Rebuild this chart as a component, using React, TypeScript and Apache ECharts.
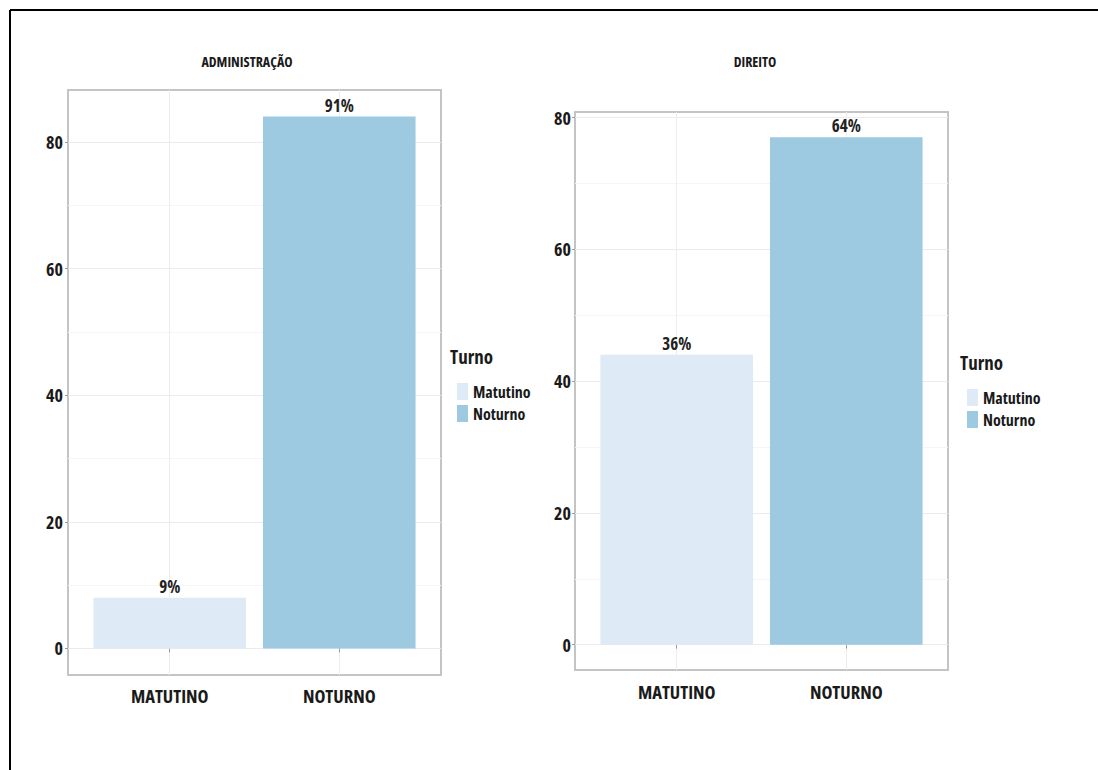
import React, { useEffect, useRef } from 'react';
import * as echarts from 'echarts';

// Enrolments by shift, one panel per course
const turnos = ['Matutino', 'Noturno'];
const categoryLabels = ['MATUTINO', 'NOTURNO'];
const panelTitles = ['ADMINISTRAÇÃO', 'DIREITO'];
const administracaoCounts = [8, 84];
const direitoCounts = [44, 77];
const yMajorTicks = [0, 20, 40, 60, 80];
const yMinorTicks = [10, 30, 50, 70];
const turnoColors = ['#deebf7', '#9ecae1'];
const legendTitle = 'Turno';

// Open Sans is drawn condensed through the container's font-stretch
const FONT = "'Open Sans', 'DejaVu Sans Condensed', sans-serif";
const INK = '#1a1a1a';

type PanelLayout = {
  left: number;
  top: number;
  width: number;
  height: number;
  titleX: number;
  titleY: number;
  legendX: number;
  legendTitleY: number;
  legendTop: number;
  xLabelMargin: number;
  yLabelMargin: number;
};

const layouts: PanelLayout[] = [
  {
    left: 68, top: 90, width: 373, height: 585,
    titleX: 247, titleY: 61,
    legendX: 452, legendTitleY: 357, legendTop: 378,
    xLabelMargin: 11, yLabelMargin: 5,
  },
  {
    left: 575, top: 112, width: 373, height: 558,
    titleX: 755, titleY: 61,
    legendX: 962, legendTitleY: 363, legendTop: 384,
    xLabelMargin: 12, yLabelMargin: 4,
  },
];

function buildOption() {
  const panels = [administracaoCounts, direitoCounts];
  const grid: any[] = [];
  const xAxis: any[] = [];
  const yAxis: any[] = [];
  const series: any[] = [];
  const legend: any[] = [];
  const graphic: any[] = [];

  panels.forEach((counts, p) => {
    const L = layouts[p];
    const total = counts.reduce((a, b) => a + b, 0);
    const peak = Math.max(...counts);
    // value range padded by 5% at both ends; discrete positions padded by 0.6
    const yMin = -0.05 * peak;
    const yMax = peak * 1.05;
    const positions = categoryLabels.map((_, i) => i + 1);

    grid.push({
      left: L.left,
      top: L.top,
      width: L.width,
      height: L.height,
      show: true,
      backgroundColor: '#ffffff',
      borderColor: '#c4c4c4',
      borderWidth: 2,
    });

    xAxis.push({
      type: 'value',
      gridIndex: p,
      min: 0.4,
      max: categoryLabels.length + 0.6,
      axisLine: { show: false },
      axisTick: {
        show: true,
        customValues: positions,
        length: 4,
        lineStyle: { color: '#9a9a9a', width: 1 },
      },
      axisLabel: {
        customValues: positions,
        formatter: (v: number) => categoryLabels[Math.round(v) - 1] ?? '',
        margin: L.xLabelMargin,
        fontFamily: FONT,
        fontWeight: 'bold',
        fontSize: 18.5,
        color: INK,
      },
      splitLine: { show: true, lineStyle: { color: '#ededed', width: 1 } },
    });

    yAxis.push({
      type: 'value',
      gridIndex: p,
      min: yMin,
      max: yMax,
      axisLine: { show: false },
      axisTick: {
        show: true,
        customValues: yMajorTicks,
        length: 3,
        lineStyle: { color: '#9a9a9a', width: 1 },
      },
      axisLabel: {
        customValues: yMajorTicks,
        margin: L.yLabelMargin,
        fontFamily: FONT,
        fontWeight: 'bold',
        fontSize: 18,
        color: INK,
      },
      splitLine: { show: true, lineStyle: { color: '#ebebeb', width: 1 } },
    });
    // minor gridlines
    yAxis.push({
      type: 'value',
      gridIndex: p,
      position: 'left',
      min: yMin,
      max: yMax,
      axisLine: { show: false },
      axisTick: { show: false, customValues: yMinorTicks },
      axisLabel: { show: false, customValues: yMinorTicks },
      splitLine: { show: true, lineStyle: { color: '#f5f5f5', width: 1 } },
    });

    counts.forEach((count, i) => {
      series.push({
        type: 'bar',
        name: turnos[i],
        xAxisIndex: p,
        yAxisIndex: 2 * p,
        data: [[positions[i], count]],
        barWidth: '90%',
        barGap: '-100%',
        itemStyle: { color: turnoColors[i] },
        label: {
          show: true,
          position: 'top',
          distance: 3,
          formatter: () => `${Math.round((count / total) * 100)}%`,
          fontFamily: FONT,
          fontWeight: 'bold',
          fontSize: 17,
          color: '#222222',
        },
      });
    });

    legend.push({
      orient: 'vertical',
      left: L.legendX,
      top: L.legendTop,
      itemWidth: 11,
      itemHeight: 17,
      itemGap: 5,
      icon: 'rect',
      selectedMode: false,
      data: turnos,
      textStyle: {
        fontFamily: FONT,
        fontWeight: 'bold',
        fontSize: 16,
        lineHeight: 17,
        color: INK,
      },
    });

    graphic.push({
      type: 'text',
      x: L.titleX,
      y: L.titleY,
      style: {
        text: panelTitles[p],
        fontFamily: FONT,
        fontWeight: 'bold',
        fontSize: 14,
        fill: INK,
        align: 'center',
        verticalAlign: 'middle',
      },
    });
    graphic.push({
      type: 'text',
      x: L.legendX - 2,
      y: L.legendTitleY,
      style: {
        text: legendTitle,
        fontFamily: FONT,
        fontWeight: 'bold',
        fontSize: 19,
        fill: INK,
        align: 'left',
        verticalAlign: 'middle',
      },
    });
  });

  // outer frame (top and left edges)
  graphic.push({
    type: 'line',
    shape: { x1: 10, y1: 10, x2: 1098, y2: 10 },
    style: { stroke: '#000000', lineWidth: 2 },
  });
  graphic.push({
    type: 'line',
    shape: { x1: 10, y1: 10, x2: 10, y2: 770 },
    style: { stroke: '#000000', lineWidth: 2 },
  });

  return {
    animation: false,
    backgroundColor: '#ffffff',
    grid,
    xAxis,
    yAxis,
    legend,
    series,
    graphic,
  };
}

export default function App() {
  const ref = useRef<HTMLDivElement>(null);

  useEffect(() => {
    if (!ref.current) return;
    const chart = echarts.init(ref.current, undefined, { renderer: 'svg' });
    chart.setOption(buildOption());
    return () => chart.dispose();
  }, []);

  return (
    <div
      ref={ref}
      style={{
        position: 'fixed',
        left: 0,
        top: 0,
        width: 1098,
        height: 770,
        background: '#ffffff',
        fontStretch: 'condensed',
      }}
    />
  );
}
